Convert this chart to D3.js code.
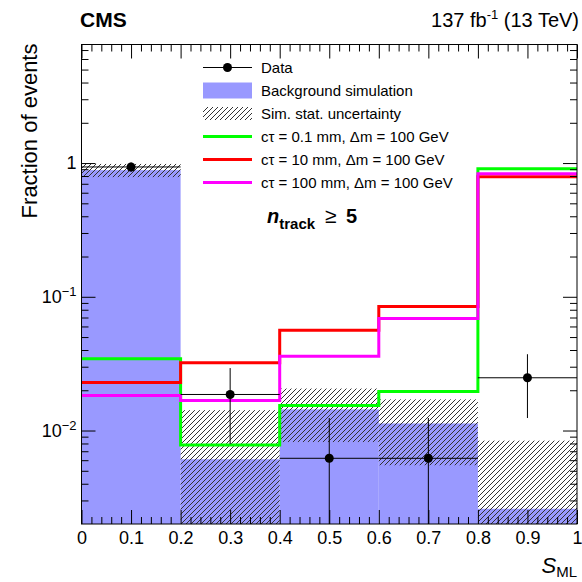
<!DOCTYPE html>
<html>
<head>
<meta charset="utf-8">
<script src="https://cdn.jsdelivr.net/npm/d3@7"></script>
<style>
  body { margin: 0; background: #fff; }
  svg { display: block; font-family: Arial, "Liberation Sans", sans-serif; }
</style>
</head>
<body>
<div id="chart"></div>
<script>
// bins in S_ML
var binEdges = [0, 0.2, 0.4, 0.6, 0.8, 1.0];

// background simulation (fraction of events) and its stat. uncertainty
var bkgFrac = [0.885, 0.0061, 0.0144, 0.0113, 0.0026];
var bkgUnc = [0.10, 0.0081, 0.0062, 0.0058, 0.0058];

// data
var dataFrac = [0.935, 0.0186, 0.0062, 0.0062, 0.0248];
var dataErr = [0.076, 0.0107, 0.0062, 0.0062, 0.0124];

// signal hypotheses
var sigGreen = [0.0344, 0.0078, 0.0154, 0.0196, 0.906];
var sigRed = [0.0229, 0.0321, 0.0561, 0.0846, 0.79];
var sigMagenta = [0.0183, 0.0168, 0.036, 0.0688, 0.832];

var legendLabels = [
  "Data",
  "Background simulation",
  "Sim. stat. uncertainty",
  "c\u03c4 = 0.1 mm, \u0394m = 100 GeV",
  "c\u03c4 = 10 mm, \u0394m = 100 GeV",
  "c\u03c4 = 100 mm, \u0394m = 100 GeV"
];

var xTicks = [0, 0.1, 0.2, 0.3, 0.4, 0.5, 0.6, 0.7, 0.8, 0.9, 1];
var yTicks = [0.01, 0.1, 1];
var yTickLabels = [["10", "\u22122"], ["10", "\u22121"], ["1", ""]];

var W = 582, H = 582;
var pLeft = 81.5, pRight = 577, pTop = 44.5, pBottom = 524;
var yMin = 0.002, yMax = 7.7;

var svg = d3.select("#chart").append("svg")
  .attr("width", W)
  .attr("height", H);

var defs = svg.append("defs");

var hatch = defs.append("pattern")
  .attr("id", "hatch")
  .attr("patternUnits", "userSpaceOnUse")
  .attr("width", 5)
  .attr("height", 5);
hatch.append("path")
  .attr("d", "M-1,1 L1,-1 M0,5 L5,0 M4,6 L6,4")
  .attr("stroke", "#333")
  .attr("stroke-width", 1);

defs.append("clipPath")
  .attr("id", "plotClip")
  .append("rect")
  .attr("x", pLeft).attr("y", pTop)
  .attr("width", pRight - pLeft).attr("height", pBottom - pTop);

var x = d3.scaleLinear().domain([0, 1]).range([pLeft, pRight]);
var y = d3.scaleLog().domain([yMin, yMax]).range([pBottom, pTop]);

var bins = bkgFrac.map(function(v, i) {
  return { x0: binEdges[i], x1: binEdges[i + 1], bkg: v, unc: bkgUnc[i], data: dataFrac[i], err: dataErr[i] };
});

var plot = svg.append("g").attr("clip-path", "url(#plotClip)");

// background fill
plot.selectAll("rect.bkg")
  .data(bins)
  .enter()
  .append("rect")
  .attr("class", "bkg")
  .attr("x", d => x(d.x0))
  .attr("width", d => x(d.x1) - x(d.x0))
  .attr("y", d => y(d.bkg))
  .attr("height", d => pBottom - y(d.bkg))
  .attr("fill", "#9999ff");

// stat. uncertainty band
plot.selectAll("rect.unc")
  .data(bins)
  .enter()
  .append("rect")
  .attr("class", "unc")
  .attr("x", d => x(d.x0))
  .attr("width", d => x(d.x1) - x(d.x0))
  .attr("y", d => y(d.bkg + d.unc))
  .attr("height", d => y(Math.max(d.bkg - d.unc, yMin / 2)) - y(d.bkg + d.unc))
  .attr("fill", "url(#hatch)");

// signal step histograms
function stepPath(vals) {
  var pts = [];
  vals.forEach(function(v, i) {
    pts.push([x(binEdges[i]), y(v)]);
    pts.push([x(binEdges[i + 1]), y(v)]);
  });
  return d3.line()(pts);
}

var signals = [
  { vals: sigGreen, color: "#00ff00" },
  { vals: sigRed, color: "#ff0000" },
  { vals: sigMagenta, color: "#ff00ff" }
];

plot.selectAll("path.sig")
  .data(signals)
  .enter()
  .append("path")
  .attr("class", "sig")
  .attr("d", d => stepPath(d.vals))
  .attr("fill", "none")
  .attr("stroke", d => d.color)
  .attr("stroke-width", 3);

// data points with error bars
var pts = plot.selectAll("g.data")
  .data(bins)
  .enter()
  .append("g")
  .attr("class", "data");

pts.append("line")
  .attr("x1", d => x(d.x0))
  .attr("x2", d => x(d.x1))
  .attr("y1", d => y(d.data))
  .attr("y2", d => y(d.data))
  .attr("stroke", "#000")
  .attr("stroke-width", 1);

pts.append("line")
  .attr("x1", d => x((d.x0 + d.x1) / 2))
  .attr("x2", d => x((d.x0 + d.x1) / 2))
  .attr("y1", d => y(d.data + d.err))
  .attr("y2", d => y(Math.max(d.data - d.err, yMin / 2)))
  .attr("stroke", "#000")
  .attr("stroke-width", 1);

pts.append("circle")
  .attr("cx", d => x((d.x0 + d.x1) / 2))
  .attr("cy", d => y(d.data))
  .attr("r", 4.5)
  .attr("fill", "#000");

// axes, ticks inside the frame
var xMinor = d3.range(0, 1.0001, 0.02).filter(v => Math.abs(v * 10 - Math.round(v * 10)) > 1e-6);
var yMinor = [];
[0.001, 0.01, 0.1, 1].forEach(function(dec) {
  for (var k = 2; k <= 9; k++) {
    var v = dec * k;
    if (v > yMin && v < yMax) yMinor.push(v);
  }
});

function styleAxis(g) {
  g.select(".domain").remove();
  g.selectAll(".tick line").attr("stroke", "#000");
}

svg.append("g")
  .attr("transform", "translate(0," + pBottom + ")")
  .call(d3.axisBottom(x).tickValues(xTicks).tickSize(-14).tickPadding(7).tickFormat(d3.format("")))
  .call(styleAxis)
  .selectAll("text")
  .attr("font-size", 18)
  .attr("font-family", "Arial, 'Liberation Sans', sans-serif")
  .attr("fill", "#000");

svg.append("g")
  .attr("transform", "translate(0," + pBottom + ")")
  .call(d3.axisBottom(x).tickValues(xMinor).tickSize(-7).tickFormat(""))
  .call(styleAxis);

svg.append("g")
  .attr("transform", "translate(0," + pTop + ")")
  .call(d3.axisTop(x).tickValues(xTicks).tickSize(-14).tickFormat(""))
  .call(styleAxis);

svg.append("g")
  .attr("transform", "translate(0," + pTop + ")")
  .call(d3.axisTop(x).tickValues(xMinor).tickSize(-7).tickFormat(""))
  .call(styleAxis);

var yAxisG = svg.append("g")
  .attr("transform", "translate(" + pLeft + ",0)")
  .call(d3.axisLeft(y).tickValues(yTicks).tickSize(-14).tickPadding(5).tickFormat(""))
  .call(styleAxis);

yAxisG.selectAll(".tick text")
  .attr("font-size", 18)
  .attr("font-family", "Arial, 'Liberation Sans', sans-serif")
  .attr("fill", "#000")
  .each(function(d, i) {
    var t = d3.select(this);
    var lab = yTickLabels[i];
    t.append("tspan").text(lab[0]);
    if (lab[1]) {
      t.append("tspan")
        .attr("font-size", 13)
        .attr("dy", "-0.55em")
        .text(lab[1]);
    }
  });

svg.append("g")
  .attr("transform", "translate(" + pLeft + ",0)")
  .call(d3.axisLeft(y).tickValues(yMinor).tickSize(-7).tickFormat(""))
  .call(styleAxis);

svg.append("g")
  .attr("transform", "translate(" + pRight + ",0)")
  .call(d3.axisRight(y).tickValues(yTicks).tickSize(-14).tickFormat(""))
  .call(styleAxis);

svg.append("g")
  .attr("transform", "translate(" + pRight + ",0)")
  .call(d3.axisRight(y).tickValues(yMinor).tickSize(-7).tickFormat(""))
  .call(styleAxis);

// frame
svg.append("rect")
  .attr("x", pLeft).attr("y", pTop)
  .attr("width", pRight - pLeft).attr("height", pBottom - pTop)
  .attr("fill", "none")
  .attr("stroke", "#000")
  .attr("stroke-width", 1);

// axis titles
svg.append("text")
  .attr("transform", "translate(37," + (pTop - 1) + ") rotate(-90)")
  .attr("text-anchor", "end")
  .attr("font-size", 22)
  .text("Fraction of events");

var xt = svg.append("text")
  .attr("x", pRight)
  .attr("y", 573)
  .attr("text-anchor", "end")
  .attr("font-size", 22);
xt.append("tspan").attr("font-style", "italic").text("S");
xt.append("tspan").attr("font-size", 15).attr("dy", 4).text("ML");

// header
svg.append("text")
  .attr("x", 80).attr("y", 27)
  .attr("font-size", 21)
  .attr("font-weight", "bold")
  .text("CMS");

var lumi = svg.append("text")
  .attr("x", 579).attr("y", 27)
  .attr("text-anchor", "end")
  .attr("font-size", 20);
lumi.append("tspan").text("137 fb");
lumi.append("tspan").attr("font-size", 13).attr("dy", -8).text("-1");
lumi.append("tspan").attr("dy", 8).text(" (13 TeV)");

// legend
var legX0 = 203, legX1 = 252, legTextX = 261;
var legY = [67.5, 90.5, 113.5, 136.5, 159.5, 182.5];
var leg = svg.append("g");

leg.append("line")
  .attr("x1", legX0).attr("x2", legX1)
  .attr("y1", legY[0]).attr("y2", legY[0])
  .attr("stroke", "#000");
leg.append("circle")
  .attr("cx", (legX0 + legX1) / 2).attr("cy", legY[0])
  .attr("r", 4.5)
  .attr("fill", "#000");

leg.append("rect")
  .attr("x", legX0).attr("y", legY[1] - 8)
  .attr("width", legX1 - legX0).attr("height", 16)
  .attr("fill", "#9999ff");

leg.append("rect")
  .attr("x", legX0).attr("y", legY[2] - 6.5)
  .attr("width", legX1 - legX0).attr("height", 13)
  .attr("fill", "url(#hatch)");

signals.forEach(function(s, i) {
  leg.append("line")
    .attr("x1", legX0).attr("x2", legX1)
    .attr("y1", legY[i + 3]).attr("y2", legY[i + 3])
    .attr("stroke", s.color)
    .attr("stroke-width", 3);
});

leg.selectAll("text")
  .data(legendLabels)
  .enter()
  .append("text")
  .attr("x", legTextX)
  .attr("y", (d, i) => legY[i])
  .attr("dy", "0.36em")
  .attr("font-size", 15)
  .text(d => d);

// selection label
var sel = svg.append("text")
  .attr("x", 267).attr("y", 223)
  .attr("font-size", 20)
  .attr("font-weight", "bold");
sel.append("tspan").attr("font-style", "italic").text("n");
sel.append("tspan").attr("font-size", 15).attr("dy", 6).text("track");
sel.append("tspan").attr("x", 325).attr("dy", -6).attr("font-weight", "normal").attr("font-size", 21).text("\u2265");
sel.append("tspan").attr("x", 346).text("5");
</script>
</body>
</html>
